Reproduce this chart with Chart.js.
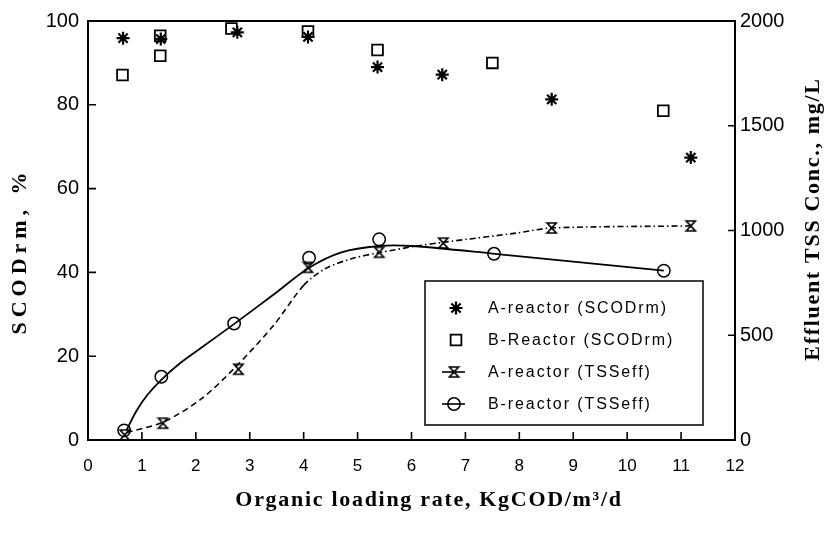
<!DOCTYPE html>
<html><head><meta charset="utf-8">
<script src="https://cdn.jsdelivr.net/npm/chart.js@4/dist/chart.umd.min.js"></script>
<style>html,body{margin:0;padding:0;background:#fff;} #wrap{width:831px;height:533px;}</style>
</head><body><div id="wrap"><canvas id="c" width="831" height="533"></canvas></div>
<script>
// ---- data ----
const xTickValues = [0,1,2,3,4,5,6,7,8,9,10,11,12];
const leftTickValues = [0,20,40,60,80,100];
const rightTickValues = [0,500,1000,1500,2000];

const legendLabels = ['A-reactor (SCODrm)','B-Reactor (SCODrm)','A-reactor (TSSeff)','B-reactor (TSSeff)'];

// SCOD removal, %
const olrScodA = [0.65, 1.35, 2.77, 4.08, 5.37, 6.57, 8.60, 11.18];
const scodA    = [95.9, 95.7, 97.3, 96.2, 89.0, 87.2, 81.3, 67.4];
const olrScodB = [0.64, 1.34, 1.34, 2.66, 4.08, 5.37, 7.50, 10.67];
const scodB    = [87.1, 96.5, 91.7, 98.2, 97.5, 93.1, 90.0, 78.6];

// Effluent TSS, mg/L (markers)
const olrTssA = [0.68, 1.39, 2.79, 4.08, 5.40, 6.59, 8.60, 11.18];
const tssA    = [24, 80, 338, 824, 896, 940, 1012, 1022];
const olrTssB = [0.67, 1.36, 2.71, 4.10, 5.40, 7.53, 10.68];
const tssB    = [46, 302, 556, 870, 958, 889, 808];

// fitted curves as drawn in the picture, mg/L
const olrCurveA = [0.72, 1.4, 2.1, 2.75, 3.45, 4.0, 4.4, 4.9, 5.4, 6.1, 6.6, 7.95, 8.6, 11.18];
const curveA    = [36, 86, 196, 352, 550, 738, 818, 866, 894, 926, 944, 988, 1012, 1022];
const olrCurveB = [0.72, 0.9, 1.1, 1.35, 1.7, 2.1, 2.7, 3.4, 4.1, 4.7, 5.4, 6.0, 7.5, 10.68];
const curveB    = [50, 140, 215, 285, 365, 440, 552, 686, 822, 896, 926, 926, 890, 808];

const pts = (xs, ys) => xs.map((x, i) => ({x, y: ys[i]}));

function hourglass(w, h, lw) {
  const c = document.createElement('canvas');
  c.width = w + 4; c.height = h + 4;
  const g = c.getContext('2d');
  const l = 2, t = 2, r = w + 2, b = h + 2;
  g.strokeStyle = '#000'; g.lineWidth = lw; g.lineJoin = 'miter';
  g.beginPath();
  g.moveTo(l, t); g.lineTo(r, t); g.lineTo(l, b); g.lineTo(r, b); g.closePath();
  g.stroke();
  return c;
}
const hgImg = hourglass(9, 10, 1.7);

function drawMarker(ctx, ds, x, y) {
  const st = ds.pointStyle, r = ds.pointRadius;
  ctx.save();
  ctx.strokeStyle = ds.pointBorderColor || '#000';
  ctx.lineWidth = ds.pointBorderWidth || 1.5;
  if (st instanceof HTMLCanvasElement) {
    ctx.drawImage(st, x - st.width / 2, y - st.height / 2);
  } else if (st === 'star') {
    ctx.beginPath();
    for (let k = 0; k < 4; k++) {
      const a = k * Math.PI / 4;
      ctx.moveTo(x - Math.cos(a) * r, y - Math.sin(a) * r);
      ctx.lineTo(x + Math.cos(a) * r, y + Math.sin(a) * r);
    }
    ctx.stroke();
  } else if (st === 'rect') {
    const s = Math.SQRT1_2 * r;
    ctx.strokeRect(x - s, y - s, 2 * s, 2 * s);
  } else if (st === 'circle') {
    ctx.beginPath(); ctx.arc(x, y, r, 0, Math.PI * 2); ctx.stroke();
  }
  ctx.restore();
}

// custom axis titles (letter-spaced, rotated like the reference)
const titleSpecs = {
  y:  {x: 20,  y: 251, rot: -Math.PI / 2, spacing: 5},
  y2: {x: 813, y: 219, rot: -Math.PI / 2, spacing: 1.7},
  x:  {x: 429, y: 500, rot: 0, spacing: 1.7}
};
const titlePlugin = {
  id: 'titles',
  afterLayout(chart) {
    for (const id of Object.keys(titleSpecs)) {
      const s = chart.scales[id];
      if (!s || s._customTitle) continue;
      const spec = titleSpecs[id];
      s.drawTitle = function () {
        const o = this.options.title, ctx = this.ctx;
        ctx.save();
        ctx.font = `${o.font.weight} ${o.font.size}px ${o.font.family}`;
        ctx.fillStyle = o.color;
        ctx.textAlign = 'center'; ctx.textBaseline = 'middle';
        ctx.letterSpacing = spec.spacing + 'px';
        ctx.translate(spec.x, spec.y); ctx.rotate(spec.rot);
        ctx.fillText(o.text, 0, 0);
        ctx.restore();
      };
      s._customTitle = true;
    }
  }
};

// frame, inward ticks and in-plot legend
const framePlugin = {
  id: 'frame',
  beforeDraw(chart) {
    const ctx = chart.ctx;
    ctx.save(); ctx.fillStyle = '#fff'; ctx.fillRect(0, 0, chart.width, chart.height); ctx.restore();
  },
  afterDraw(chart) {
    const ctx = chart.ctx, ca = chart.chartArea;
    const {x, y, y2} = chart.scales;
    ctx.save();
    ctx.strokeStyle = '#000'; ctx.lineWidth = 2;
    ctx.strokeRect(ca.left, ca.top, ca.right - ca.left, ca.bottom - ca.top);
    ctx.lineWidth = 1.6;
    ctx.beginPath();
    x.ticks.forEach(t => { const p = x.getPixelForValue(t.value); ctx.moveTo(p, ca.bottom); ctx.lineTo(p, ca.bottom - 8); });
    y.ticks.forEach(t => { const p = y.getPixelForValue(t.value); ctx.moveTo(ca.left, p); ctx.lineTo(ca.left + 8, p); });
    y2.ticks.forEach(t => { const p = y2.getPixelForValue(t.value); ctx.moveTo(ca.right, p); ctx.lineTo(ca.right - 7, p); });
    ctx.stroke();

    // legend box
    const bx = ca.right - 310, by = ca.bottom - 159, bw = 278, bh = 144;
    ctx.lineWidth = 1.5;
    ctx.strokeRect(bx, by, bw, bh);
    ctx.font = '16px "Liberation Sans", Arial, sans-serif';
    ctx.letterSpacing = '1.9px';
    ctx.fillStyle = '#000'; ctx.textAlign = 'left'; ctx.textBaseline = 'middle';
    const dsets = chart.data.datasets.filter(d => d.legendIndex !== undefined);
    dsets.sort((a, b) => a.legendIndex - b.legendIndex);
    dsets.forEach((d, i) => {
      const ry = by + 27 + i * 32;
      const mx = bx + 31;
      if (d.legendLine) {
        ctx.save();
        ctx.lineWidth = 1.6; ctx.setLineDash([]);
        ctx.beginPath(); ctx.moveTo(bx + 17, ry); ctx.lineTo(bx + 40, ry); ctx.stroke();
        ctx.restore();
        drawMarker(ctx, d, bx + 29, ry);
      } else {
        drawMarker(ctx, d, mx, ry);
      }
      ctx.fillText(d.label, bx + 63, ry + 1);
    });
    ctx.restore();
  }
};

const tickFontY = {family: '"Liberation Sans", Arial, sans-serif', size: 20};
const tickFontX = {family: '"Liberation Sans", Arial, sans-serif', size: 17};
const titleFont = {family: '"Liberation Serif", "Times New Roman", serif', size: 22, weight: 'bold'};
const plain = v => String(v);
const noGrid = { display: false, drawTicks: false, drawOnChartArea: false };

new Chart(document.getElementById('c'), {
  type: 'scatter',
  data: {
    datasets: [
      { label: legendLabels[2] + ' curve', data: pts(olrCurveA, curveA), yAxisID: 'y2', showLine: true,
        borderColor: '#000', borderWidth: 1.6, pointRadius: 0, tension: 0.3,
        segment: { borderDash: c => c.p0.parsed.x >= 4.0 ? [6, 3, 1.5, 3] : [6, 4] } },
      { label: legendLabels[3] + ' curve', data: pts(olrCurveB, curveB), yAxisID: 'y2', showLine: true,
        borderColor: '#000', borderWidth: 1.8, pointRadius: 0, tension: 0.3 },
      { label: legendLabels[0], legendIndex: 0, data: pts(olrScodA, scodA), yAxisID: 'y',
        pointStyle: 'star', pointRadius: 6.5, pointBorderWidth: 2.2, pointBorderColor: '#000', pointBackgroundColor: 'transparent', borderColor: '#000' },
      { label: legendLabels[1], legendIndex: 1, data: pts(olrScodB, scodB), yAxisID: 'y',
        pointStyle: 'rect', pointRadius: 7.6, pointBorderWidth: 1.8, pointBorderColor: '#000', pointBackgroundColor: 'transparent', borderColor: '#000' },
      { label: legendLabels[2], legendIndex: 2, legendLine: true, data: pts(olrTssA, tssA), yAxisID: 'y2',
        pointStyle: hgImg, pointRadius: 6, pointBorderWidth: 1.6, pointBorderColor: '#000', pointBackgroundColor: 'transparent', borderColor: '#000' },
      { label: legendLabels[3], legendIndex: 3, legendLine: true, data: pts(olrTssB, tssB), yAxisID: 'y2',
        pointStyle: 'circle', pointRadius: 6.2, pointBorderWidth: 1.5, pointBorderColor: '#000', pointBackgroundColor: 'transparent', borderColor: '#000' }
    ]
  },
  options: {
    responsive: false, animation: false, devicePixelRatio: 1,
    layout: { padding: { top: 15, left: 0, right: 0, bottom: 0 } },
    plugins: { legend: { display: false }, tooltip: { enabled: false } },
    scales: {
      x: { type: 'linear', position: 'bottom', min: 0, max: 12,
        afterBuildTicks: s => { s.ticks = xTickValues.map(v => ({value: v})); },
        afterFit: s => { s.height = 93; },
        grid: noGrid, border: { display: false },
        ticks: { color: '#000', font: tickFontX, padding: 16, autoSkip: false, maxRotation: 0, callback: plain },
        title: { display: true, text: 'Organic loading rate, KgCOD/m³/d', color: '#000', font: titleFont } },
      y: { type: 'linear', position: 'left', min: 0, max: 100,
        afterBuildTicks: s => { s.ticks = leftTickValues.map(v => ({value: v})); },
        afterFit: s => { s.width = 88; },
        grid: noGrid, border: { display: false },
        ticks: { color: '#000', font: tickFontY, padding: 9, callback: plain },
        title: { display: true, text: 'SCODrm, %', color: '#000', font: titleFont } },
      y2: { type: 'linear', position: 'right', min: 0, max: 2000,
        afterBuildTicks: s => { s.ticks = rightTickValues.map(v => ({value: v})); },
        afterFit: s => { s.width = 96; },
        grid: noGrid, border: { display: false },
        ticks: { color: '#000', font: tickFontY, padding: 5, callback: plain },
        title: { display: true, text: 'Effluent TSS Conc., mg/L', color: '#000', font: titleFont } }
    }
  },
  plugins: [titlePlugin, framePlugin]
});
</script>
</body></html>
